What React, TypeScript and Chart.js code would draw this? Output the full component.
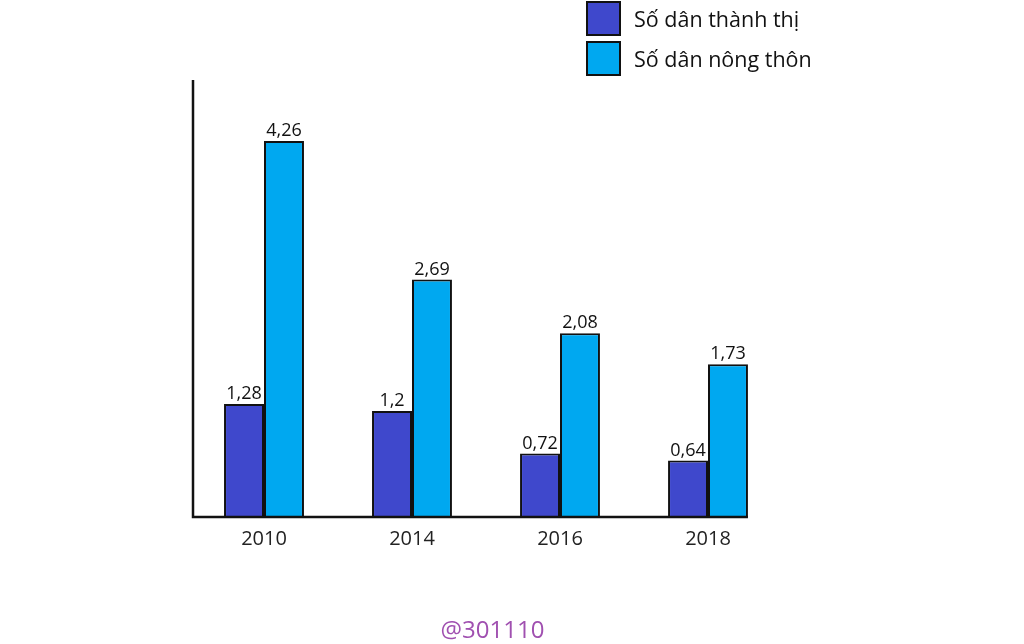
import React, { useEffect, useRef } from "react";
import { Chart, registerables } from "chart.js";

Chart.register(...registerables);

const categories = ["2010", "2014", "2016", "2018"];
const urbanLabel = "Số dân thành thị";
const ruralLabel = "Số dân nông thôn";
const urbanValues = [1.28, 1.2, 0.72, 0.64];
const ruralValues = [4.26, 2.69, 2.08, 1.73];
const watermark = "@301110";

const urbanColor = "#3f48cc";
const ruralColor = "#00a8f0";
const FONT = "'Open Sans', 'Noto Sans', sans-serif";

const fmt = (v: number) => String(v).replace(".", ",");

const axesPlugin = {
  id: "axesLines",
  afterDatasetsDraw(chart: any) {
    const { ctx, chartArea } = chart;
    const metas = chart.getSortedVisibleDatasetMetas();
    const last = metas[metas.length - 1];
    const lastBar = last.data[last.data.length - 1];
    const right = lastBar.x + lastBar.width / 2;
    ctx.save();
    ctx.strokeStyle = "#111";
    ctx.lineWidth = 2.5;
    ctx.beginPath();
    ctx.moveTo(chartArea.left + 3, chartArea.top);
    ctx.lineTo(chartArea.left + 3, chartArea.bottom);
    ctx.lineTo(right, chartArea.bottom);
    ctx.stroke();
    ctx.fillStyle = "#111";
    ctx.font = `18px ${FONT}`;
    ctx.textAlign = "center";
    ctx.textBaseline = "bottom";
    metas.forEach((meta: any) => {
      const ds = chart.data.datasets[meta.index];
      meta.data.forEach((bar: any, i: number) => {
        ctx.fillText(fmt(ds.data[i]), bar.x, bar.y - 1);
      });
    });
    ctx.restore();
  },
};

export default function App() {
  const ref = useRef<HTMLCanvasElement>(null);
  useEffect(() => {
    document.body.style.margin = "0";
    const chart = new Chart(ref.current!, {
      type: "bar",
      data: {
        labels: categories,
        datasets: [
          {
            label: urbanLabel,
            data: urbanValues,
            backgroundColor: urbanColor,
            borderColor: "#111",
            borderWidth: 2,
          },
          {
            label: ruralLabel,
            data: ruralValues,
            backgroundColor: ruralColor,
            borderColor: "#111",
            borderWidth: 2,
          },
        ],
      },
      options: {
        responsive: false,
        animation: false,
        layout: { padding: { left: 190, right: 242, top: 80, bottom: 83 } },
        plugins: { legend: { display: false }, tooltip: { enabled: false } },
        datasets: { bar: { categoryPercentage: 0.54, barPercentage: 1 } },
        scales: {
          x: {
            grid: { display: false, drawTicks: false },
            border: { display: false },
            ticks: { color: "#222", font: { family: FONT, size: 20 }, padding: 10 },
          },
          y: { display: false, min: 0, max: 4.95 },
        },
      },
      plugins: [axesPlugin],
    });
    return () => chart.destroy();
  }, []);

  const legendItem = (color: string, text: string, top: number) => (
    <div style={{ position: "absolute", left: 586, top, display: "flex", alignItems: "center" }}>
      <div style={{ width: 31, height: 31, background: color, border: "2px solid #111" }} />
      <span style={{ marginLeft: 13, fontFamily: FONT, fontSize: 21.5, color: "#111" }}>{text}</span>
    </div>
  );

  return (
    <div style={{ position: "relative", width: 1024, height: 644, background: "#fff", overflow: "hidden" }}>
      <canvas ref={ref} width={1024} height={644} style={{ position: "absolute", left: 0, top: 0 }} />
      {legendItem(urbanColor, urbanLabel, 1)}
      {legendItem(ruralColor, ruralLabel, 41)}
      <div
        style={{
          position: "absolute",
          left: 0,
          width: 985,
          top: 612,
          textAlign: "center",
          fontFamily: FONT,
          fontSize: 24,
          color: "#a050b0",
        }}
      >
        {watermark}
      </div>
    </div>
  );
}
